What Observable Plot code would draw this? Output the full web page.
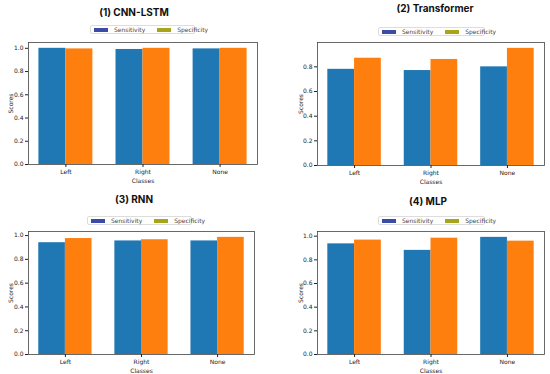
<!DOCTYPE html>
<html>
<head>
<meta charset="utf-8">
<script src="https://cdn.jsdelivr.net/npm/d3@7"></script>
<script src="https://cdn.jsdelivr.net/npm/@observablehq/plot@0.6"></script>
<style>
  html, body { margin: 0; padding: 0; background: #fff; }
  #root { position: relative; width: 550px; height: 374px; overflow: hidden; font-family: "DejaVu Sans", sans-serif; }
  .panel { position: absolute; }
  .title { position: absolute; transform: translate(-50%, -50%); font-family: Inter, Roboto, sans-serif; font-weight: 700; font-size: 10px; color: #111; white-space: nowrap; }
  .legend { position: absolute; border: 1px solid #ddd; border-radius: 2px; background: #fff; font-size: 6px; color: #444; display: flex; align-items: center; height: 9px; padding: 0 3px; box-sizing: border-box; white-space: nowrap; }
  .sw { display: inline-block; width: 14px; height: 4px; margin-right: 6px; }
  .item { display: inline-flex; align-items: center; margin-right: 12px; }
  .item:last-child { margin-right: 0; }
</style>
</head>
<body>
<div id="root"></div>
<script>
// ---- data ----
const classes = ["Left", "Right", "None"];
const metrics = ["Sensitivity", "Specificity"];
const titles = ["(1) CNN-LSTM", "(2) Transformer", "(3) RNN", "(4) MLP"];
const cnnLstmSensitivity = [1.0, 0.99, 0.995];
const cnnLstmSpecificity = [0.995, 1.0, 1.0];
const transformerSensitivity = [0.78, 0.77, 0.80];
const transformerSpecificity = [0.87, 0.86, 0.95];
const rnnSensitivity = [0.94, 0.955, 0.955];
const rnnSpecificity = [0.975, 0.965, 0.985];
const mlpSensitivity = [0.935, 0.88, 0.99];
const mlpSpecificity = [0.967, 0.983, 0.958];
const yTicks = [0, 0.2, 0.4, 0.6, 0.8, 1.0];

// ---- styles / layout ----
const barColors = ["#1f77b4", "#ff7f0e"];
const legendColors = ["#3b4ba6", "#a9a51b"];

const panels = [
  {sens: cnnLstmSensitivity, spec: cnnLstmSpecificity, left: 0, top: 0, mL: 28, mR: 18, mT: 42, mB: 23,
   title: [134, 12], legend: [90, 25, 105], yLabelOff: 20},
  {sens: transformerSensitivity, spec: transformerSpecificity, left: 275, top: 0, mL: 42, mR: 6, mT: 42, mB: 22,
   title: [435, 8], legend: [378, 27, 107], yLabelOff: 19},
  {sens: rnnSensitivity, spec: rnnSpecificity, left: 0, top: 187, mL: 28, mR: 21, mT: 44, mB: 20,
   title: [134, 199], legend: [87, 216, 105], yLabelOff: 20},
  {sens: mlpSensitivity, spec: mlpSpecificity, left: 275, top: 187, mL: 42, mR: 6, mT: 44, mB: 20,
   title: [428, 201], legend: [378, 216, 107], yLabelOff: 19}
];

const root = document.getElementById("root");

panels.forEach((p, k) => {
  const rows = [];
  classes.forEach((c, i) => {
    rows.push({i, cls: c, metric: metrics[0], value: p.sens[i], off: -0.35});
    rows.push({i, cls: c, metric: metrics[1], value: p.spec[i], off: 0});
  });
  const maxV = d3.max(rows, d => d.value);
  const yMax = maxV * 1.05;
  const chart = Plot.plot({
    width: 275, height: 187,
    marginLeft: p.mL, marginRight: p.mR, marginTop: p.mT, marginBottom: p.mB,
    style: {fontFamily: "DejaVu Sans, sans-serif", fontSize: "6px", color: "#222", background: "transparent", overflow: "visible"},
    x: {domain: [-0.485, 2.485]},
    y: {domain: [0, yMax]},
    color: {domain: metrics, range: barColors},
    marks: [
      Plot.rectY(rows, {x1: d => d.i + d.off, x2: d => d.i + d.off + 0.35, y1: 0, y2: "value", fill: "metric"}),
      Plot.frame({stroke: "#444", strokeWidth: 0.8}),
      Plot.axisY({ticks: yTicks.filter(t => t <= yMax), tickFormat: d3.format(".1f"), tickSize: 3, tickPadding: 2,
        label: "Scores", labelAnchor: "center", labelArrow: "none", labelOffset: p.yLabelOff}),
      Plot.axisX({ticks: [0, 1, 2], tickFormat: i => classes[i], tickSize: 3, tickPadding: 2,
        label: "Classes", labelAnchor: "center", labelArrow: "none", labelOffset: 18})
    ]
  });
  chart.classList.add("panel");
  chart.style.left = p.left + "px";
  chart.style.top = p.top + "px";
  root.appendChild(chart);

  const t = document.createElement("div");
  t.className = "title";
  t.textContent = titles[k];
  t.style.left = p.title[0] + "px";
  t.style.top = p.title[1] + "px";
  root.appendChild(t);

  const lg = document.createElement("div");
  lg.className = "legend";
  lg.style.left = p.legend[0] + "px";
  lg.style.top = p.legend[1] + "px";
  lg.style.width = p.legend[2] + "px";
  metrics.forEach((m, j) => {
    const it = document.createElement("span");
    it.className = "item";
    const sw = document.createElement("span");
    sw.className = "sw";
    sw.style.background = legendColors[j];
    it.appendChild(sw);
    it.appendChild(document.createTextNode(m));
    lg.appendChild(it);
  });
  root.appendChild(lg);
});
</script>
</body>
</html>
